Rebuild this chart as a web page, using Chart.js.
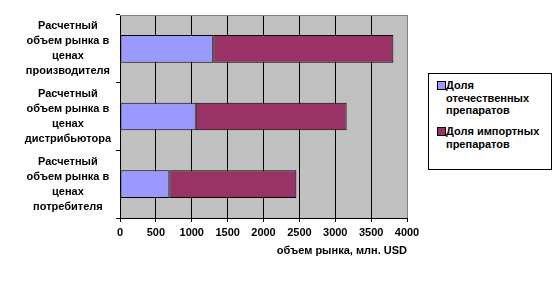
<!DOCTYPE html>
<html>
<head>
<meta charset="utf-8">
<script src="https://cdn.jsdelivr.net/npm/chart.js@4/dist/chart.umd.min.js"></script>
<style>
  html, body { margin: 0; padding: 0; background: #fff; }
  #wrap { position: relative; width: 560px; height: 289px; }
  #legend {
    position: absolute; left: 428px; top: 73px; width: 122px; height: 95px;
    border: 1px solid #000; background: #fff;
    font: bold 11px "Liberation Sans", Arial, sans-serif; color: #000;
  }
  .item { position: absolute; left: 17px; width: 104px; line-height: 12.5px; }
  .sw { position: absolute; left: -9px; top: 2px; width: 7px; height: 7px; border: 1px solid #000; }
</style>
</head>
<body>
<div id="wrap">
  <canvas id="c" width="560" height="289"></canvas>
  <div id="legend"></div>
</div>
<script>
const categories = [
  ["Расчетный", "объем рынка в", "ценах", "производителя"],
  ["Расчетный", "объем рынка в", "ценах", "дистрибьютора"],
  ["Расчетный", "объем рынка в", "ценах", "потребителя"]
];
const seriesNames = ["Доля отечественных препаратов", "Доля импортных препаратов"];
const domesticShare = [1300, 1055, 688];
const importShare = [2510, 2104, 1770];
const xTickValues = [0, 500, 1000, 1500, 2000, 2500, 3000, 3500, 4000];
const xAxisTitle = "объем рынка, млн. USD";
const colors = ["#9999FF", "#993366"];

const FONT = { family: '"Liberation Sans", Arial, sans-serif', size: 11, weight: 'bold' };

const plotBg = {
  id: 'plotBg',
  beforeDraw(chart) {
    const a = chart.chartArea, ctx = chart.ctx;
    ctx.save();
    ctx.fillStyle = '#C0C0C0';
    ctx.fillRect(a.left, a.top, a.right - a.left, a.bottom - a.top);
    ctx.restore();
  },
  afterDraw(chart) {
    const a = chart.chartArea, ctx = chart.ctx;
    ctx.save();
    ctx.strokeStyle = '#808080';
    ctx.lineWidth = 1;
    ctx.beginPath();
    ctx.moveTo(a.left, a.top + 0.5);
    ctx.lineTo(a.right + 0.5, a.top + 0.5);
    ctx.lineTo(a.right + 0.5, a.bottom);
    ctx.stroke();
    ctx.restore();
  }
};

new Chart(document.getElementById('c'), {
  type: 'bar',
  data: {
    labels: categories,
    datasets: [
      { label: seriesNames[0], data: domesticShare, backgroundColor: colors[0] },
      { label: seriesNames[1], data: importShare, backgroundColor: colors[1] }
    ].map(d => Object.assign(d, {
      borderColor: '#000', borderWidth: 1, borderSkipped: false,
      barPercentage: 1, categoryPercentage: 0.41
    }))
  },
  options: {
    indexAxis: 'y',
    responsive: false,
    animation: false,
    layout: { padding: { top: 15, right: 153, left: 0, bottom: 31 } },
    plugins: { legend: { display: false }, tooltip: { enabled: false } },
    scales: {
      x: {
        stacked: true, min: 0, max: 4000,
        afterBuildTicks(scale) { scale.ticks = xTickValues.map(v => ({ value: v })); },
        afterFit(scale) { scale.height = 40; },
        grid: {
          color: c => (c.tick && c.tick.value === 4000) ? '#808080' : '#000',
          tickColor: '#000', tickLength: 4, lineWidth: 1
        },
        border: { color: '#000' },
        ticks: { font: FONT, color: '#000', padding: 4, maxRotation: 0, autoSkip: false,
                 callback: v => String(v) },
        title: { display: true, text: xAxisTitle, align: 'end', font: FONT, color: '#000', padding: { top: 0, bottom: 0 } }
      },
      y: {
        stacked: true,
        offset: true,
        afterFit(scale) { scale.width = 120; scale.paddingTop = 0; scale.paddingBottom = 0; },
        grid: { offset: true, drawOnChartArea: false, drawTicks: true, tickLength: 4, color: '#000' },
        border: { color: '#000' },
        ticks: { font: Object.assign({}, FONT, { lineHeight: 1.36 }), color: '#000', crossAlign: 'center', padding: 5, autoSkip: false }
      }
    }
  },
  plugins: [plotBg]
});

// HTML legend
const legend = document.getElementById('legend');
const legendLines = [["Доля", "отечественных", "препаратов"], ["Доля импортных", "препаратов"]];
const legendTops = [5, 51];
seriesNames.forEach((name, i) => {
  const it = document.createElement('div');
  it.className = 'item';
  it.style.top = legendTops[i] + 'px';
  const sw = document.createElement('div');
  sw.className = 'sw';
  sw.style.background = colors[i];
  it.appendChild(sw);
  const t = document.createElement('div');
  t.innerHTML = legendLines[i].join('<br>');
  it.appendChild(t);
  legend.appendChild(it);
});
</script>
</body>
</html>
